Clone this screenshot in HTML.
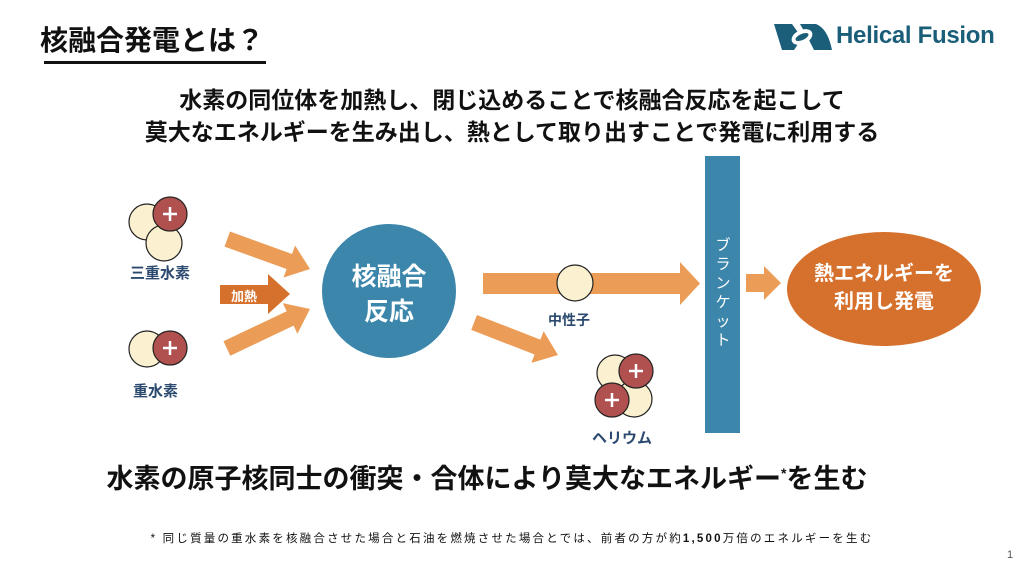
<!DOCTYPE html>
<html><head><meta charset="utf-8"><style>
body{margin:0;width:1024px;height:575px;background:#fff;position:relative;overflow:hidden;font-family:"Liberation Sans","Noto Sans CJK JP",sans-serif;}
.a{position:absolute;white-space:nowrap;}
</style></head><body>
<div class="a" style="left:40px;top:19px;font-size:28px;font-weight:bold;color:#111;">核融合発電とは？</div>
<div class="a" style="left:44px;top:61px;width:222px;height:3px;background:#111;"></div>
<svg class="a" style="left:772px;top:20px" width="62" height="34" viewBox="0 0 62 34">
<path d="M2 4 L20 4 L30 18 L22 30 L10 30 Z" fill="#1a5e7a"/>
<path d="M28 4 L44 4 C54 8 58 20 60 30 L42 30 L36 18 Z" fill="#1a5e7a"/>
<ellipse cx="30" cy="17" rx="11" ry="7" fill="#fff" transform="rotate(-25 30 17)"/>
<ellipse cx="30" cy="17" rx="7" ry="3" fill="#1a5e7a" transform="rotate(-25 30 17)"/>
</svg>
<div class="a" style="left:836px;top:22px;font-size:24px;font-weight:bold;color:#1a5e7a;letter-spacing:-0.3px;">Helical Fusion</div>
<div class="a" style="left:0;width:1024px;text-align:center;top:81px;font-size:23px;font-weight:bold;color:#111;">水素の同位体を加熱し、閉じ込めることで核融合反応を起こして</div>
<div class="a" style="left:0;width:1024px;text-align:center;top:113px;font-size:23px;font-weight:bold;color:#111;">莫大なエネルギーを生み出し、熱として取り出すことで発電に利用する</div>
<svg class="a" style="left:0;top:0" width="1024" height="575">
<g stroke="#222" stroke-width="1.2">
<circle cx="147" cy="222" r="18" fill="#fbf0cf"/>
<circle cx="164" cy="243" r="18" fill="#fbf0cf"/>
<circle cx="170" cy="214" r="17" fill="#b0514f"/>
<circle cx="147" cy="349" r="18" fill="#fbf0cf"/>
<circle cx="170" cy="348" r="17" fill="#b0514f"/>
</g>
<g stroke="#fff" stroke-width="2.5"><path d="M163 214h14M170 207v14M163 348h14M170 341v14"/></g>
<g fill="#eb9d58">
<g transform="translate(310,269) rotate(19.9)"><polygon points="0,0 -22,-17 -22,-8 -88,-8 -88,8 -22,8 -22,17"/></g>
<g transform="translate(310,309) rotate(-25.4)"><polygon points="0,0 -22,-17 -22,-8 -92,-8 -92,8 -22,8 -22,17"/></g>
<g transform="translate(558,355) rotate(21.2)"><polygon points="0,0 -22,-17 -22,-8 -90,-8 -90,8 -22,8 -22,17"/></g>
<polygon points="483,273 680,273 680,262 700,283.5 680,305 680,294 483,294"/>
<polygon points="746,274 764,274 764,266 781,283 764,300 764,292 746,292"/>
</g>
<circle cx="575" cy="283" r="18" fill="#fbf0cf" stroke="#222" stroke-width="1.2"/>
<polygon points="220,285 268,285 268,274 290,294 268,314 268,304 220,304" fill="#d6712d"/>
<circle cx="389" cy="291" r="67" fill="#3b86aa"/>
<g stroke="#222" stroke-width="1.2">
<circle cx="615" cy="373" r="18" fill="#fbf0cf"/>
<circle cx="634" cy="399" r="18" fill="#fbf0cf"/>
<circle cx="636" cy="371" r="17" fill="#b0514f"/>
<circle cx="612" cy="400" r="17" fill="#b0514f"/>
</g>
<g stroke="#fff" stroke-width="2.5"><path d="M629 371h14M636 364v14M605 400h14M612 393v14"/></g>
<rect x="705" y="156" width="35" height="277" fill="#3b86aa"/>
<ellipse cx="884" cy="289" rx="97" ry="57" fill="#d6712d"/>
</svg>
<div class="a" style="left:130px;top:262px;font-size:15px;font-weight:bold;color:#2c4a70;">三重水素</div>
<div class="a" style="left:133px;top:380px;font-size:15px;font-weight:bold;color:#2c4a70;">重水素</div>
<div class="a" style="left:231px;top:286px;font-size:13px;font-weight:bold;color:#fff;">加熱</div>
<div class="a" style="left:322px;top:260px;width:134px;text-align:center;font-size:25px;line-height:35px;font-weight:bold;color:#fff;">核融合<br>反応</div>
<div class="a" style="left:548px;top:310px;font-size:14px;font-weight:bold;color:#2c4a70;">中性子</div>
<div class="a" style="left:592px;top:427px;font-size:15px;font-weight:bold;color:#2c4a70;">ヘリウム</div>
<div class="a" style="left:713px;top:236px;width:20px;font-size:15px;line-height:19px;color:#fff;text-align:center;white-space:normal;">ブ<br>ラ<br>ン<br>ケ<br>ッ<br>ト</div>
<div class="a" style="left:787px;top:260px;width:194px;text-align:center;font-size:20px;line-height:28px;font-weight:bold;color:#fff;">熱エネルギーを<br>利用し発電</div>
<div class="a" style="left:-25px;width:1024px;text-align:center;top:457px;font-size:27px;font-weight:bold;color:#111;">水素の原子核同士の衝突・合体により莫大なエネルギー<sup style="font-size:14px">*</sup>を生む</div>
<div class="a" style="left:0;width:1024px;text-align:center;top:530px;font-size:11.5px;letter-spacing:2.2px;color:#111;">* 同じ質量の重水素を核融合させた場合と石油を燃焼させた場合とでは、前者の方が約<b>1,500</b>万倍のエネルギーを生む</div>
<div class="a" style="left:1007px;top:549px;font-size:11px;color:#555;">1</div>
</body></html>
